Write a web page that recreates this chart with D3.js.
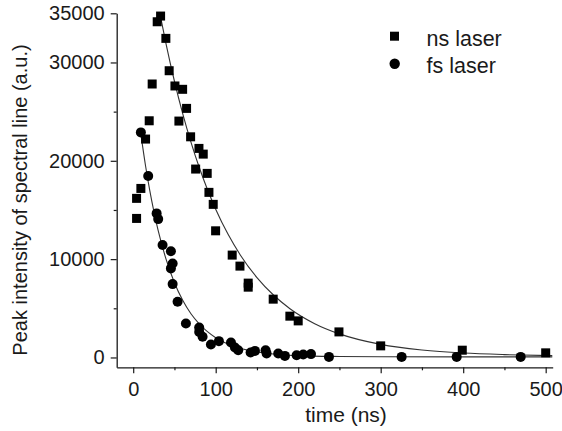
<!DOCTYPE html>
<html>
<head>
<meta charset="utf-8">
<script src="https://cdn.jsdelivr.net/npm/d3@7"></script>
<style>
  html, body { margin: 0; padding: 0; background: #fff; }
  svg { display: block; }
  text { font-family: "Liberation Sans", Arial, Helvetica, sans-serif; fill: #1a1a1a; }
</style>
</head>
<body>
<svg id="chart" width="562" height="431"></svg>
<script>
// ---- data ----
const seriesNames = ["ns laser", "fs laser"];

// ns laser (squares): [time ns, intensity]
const nsTime = [29.1, 33.2, 39.6, 43.6, 23.0, 50.6, 59.9, 64.7, 19.4, 55.4, 15.0, 69.6, 79.7, 84.9, 75.7, 89.7, 91.8, 97.0, 99.9, 4.1, 9.3, 4.1, 120.0, 129.4, 139.4, 139.4, 169.7, 189.9, 200.0, 249.4, 300.0, 398.9, 500.0];
const nsValue = [34140, 34720, 32450, 29160, 27810, 27610, 27270, 25330, 24070, 24040, 22210, 22440, 21260, 20680, 19160, 18720, 16790, 15570, 12880, 16180, 17190, 14140, 10410, 9290, 7560, 7150, 5930, 4200, 3720, 2600, 1180, 740, 470];

// fs laser (circles)
const fsTime = [9.3, 18.2, 28.4, 30.3, 35.6, 45.7, 47.8, 45.7, 47.8, 53.8, 63.9, 80.0, 80.0, 84.1, 94.2, 103.9, 118.5, 123.3, 127.3, 142.3, 147.6, 160.5, 161.7, 175.8, 183.9, 198.1, 206.1, 215.5, 237.3, 325.4, 392.1, 469.7];
const fsValue = [22890, 18450, 14650, 14070, 11430, 10810, 9560, 9060, 7460, 5660, 3460, 3050, 2600, 2100, 1320, 1660, 1530, 1020, 740, 510, 670, 740, 410, 410, 160, 230, 310, 340, 60, 60, 60, 60];

// fitted decay curves
const nsFitTime = [33, 40, 50, 60, 70, 80, 90, 100, 115, 130, 150, 170, 190, 220, 250, 300, 350, 400, 450, 508];
const nsFitValue = [34720, 31820, 28090, 24800, 21900, 19340, 17080, 15080, 12520, 10400, 8120, 6350, 4960, 3440, 2400, 1330, 760, 450, 290, 190];
const fsFitTime = [9, 15, 20, 25, 30, 40, 50, 60, 70, 80, 90, 100, 120, 140, 160, 180, 200, 250, 300, 400, 508];
const fsFitValue = [22890, 19470, 17020, 14880, 13000, 9950, 7600, 5810, 4440, 3420, 2620, 2010, 1200, 720, 450, 280, 190, 100, 70, 60, 60];

// axis ticks
const xMajorTicks = [0, 100, 200, 300, 400, 500];
const xMinorTicks = [50, 150, 250, 350, 450];
const yMajorTicks = [0, 10000, 20000, 30000, 35000];
const yMinorTicks = [5000, 15000, 25000];

const xTitle = "time (ns)";
const yTitle = "Peak intensity of spectral line (a.u.)";

// ---- scales ----
const x = d3.scaleLinear().domain([-20, 508.5]).range([116.7, 552.7]);
const y = d3.scaleLinear().domain([-1000, 35000]).range([367.3, 13.3]);

const svg = d3.select("#chart");
const ink = "#1a1a1a";

// fit lines
const line = d3.line().x(d => x(d[0])).y(d => y(d[1])).curve(d3.curveMonotoneX);
svg.append("path")
  .attr("d", line(d3.zip(nsFitTime, nsFitValue)))
  .attr("fill", "none").attr("stroke", "#333").attr("stroke-width", 1.1);
svg.append("path")
  .attr("d", line(d3.zip(fsFitTime, fsFitValue)))
  .attr("fill", "none").attr("stroke", "#333").attr("stroke-width", 1.1);

// markers
const sq = 9;
svg.append("g").selectAll("rect")
  .data(d3.zip(nsTime, nsValue))
  .join("rect")
  .attr("x", d => x(d[0]) - sq / 2)
  .attr("y", d => y(d[1]) - sq / 2)
  .attr("width", sq).attr("height", sq)
  .attr("fill", "#000");

svg.append("g").selectAll("circle")
  .data(d3.zip(fsTime, fsValue))
  .join("circle")
  .attr("cx", d => x(d[0]))
  .attr("cy", d => y(d[1]))
  .attr("r", 5)
  .attr("fill", "#000");

// axes
function styleAxis(g) {
  g.selectAll(".domain").attr("stroke", ink).attr("stroke-width", 1.3);
  g.selectAll(".tick line").attr("stroke", ink).attr("stroke-width", 1.2);
  g.selectAll(".tick text").attr("fill", ink)
    .style("font-family", '"Liberation Sans", Arial, sans-serif')
    .style("font-size", "20px");
}

const xAxis = svg.append("g").attr("transform", `translate(0,${y(-1000)})`)
  .call(d3.axisBottom(x).tickValues(xMajorTicks).tickSize(6).tickPadding(9).tickSizeOuter(0).tickFormat(d3.format("d")));
styleAxis(xAxis);
const xMinor = svg.append("g").attr("transform", `translate(0,${y(-1000)})`)
  .call(d3.axisBottom(x).tickValues(xMinorTicks).tickSize(3).tickFormat(""));
xMinor.select(".domain").remove();
styleAxis(xMinor);

const yAxis = svg.append("g").attr("transform", `translate(${x(-20)},0)`)
  .call(d3.axisLeft(y).tickValues(yMajorTicks).tickSize(6).tickPadding(6).tickSizeOuter(0).tickFormat(d3.format("d")));
styleAxis(yAxis);
const yMinor = svg.append("g").attr("transform", `translate(${x(-20)},0)`)
  .call(d3.axisLeft(y).tickValues(yMinorTicks).tickSize(3).tickFormat(""));
yMinor.select(".domain").remove();
styleAxis(yMinor);

// axis titles
svg.append("text")
  .attr("x", 346).attr("y", 421.7)
  .attr("text-anchor", "middle")
  .style("font-size", "21px")
  .text(xTitle);

svg.append("text")
  .attr("transform", "translate(27.3,200) rotate(-90)")
  .attr("text-anchor", "middle")
  .style("font-size", "20px")
  .text(yTitle);

// legend
const legend = svg.append("g");
legend.append("rect").attr("x", 394.5 - sq / 2).attr("y", 36.2 - sq / 2)
  .attr("width", sq).attr("height", sq).attr("fill", "#000");
legend.append("circle").attr("cx", 394.7).attr("cy", 63.8).attr("r", 5.2).attr("fill", "#000");
legend.selectAll("text.lg").data(seriesNames).join("text")
  .attr("class", "lg")
  .attr("x", 426.5)
  .attr("y", (d, i) => 46 + i * 27.4)
  .style("font-size", "21.5px")
  .text(d => d);
</script>
</body>
</html>
